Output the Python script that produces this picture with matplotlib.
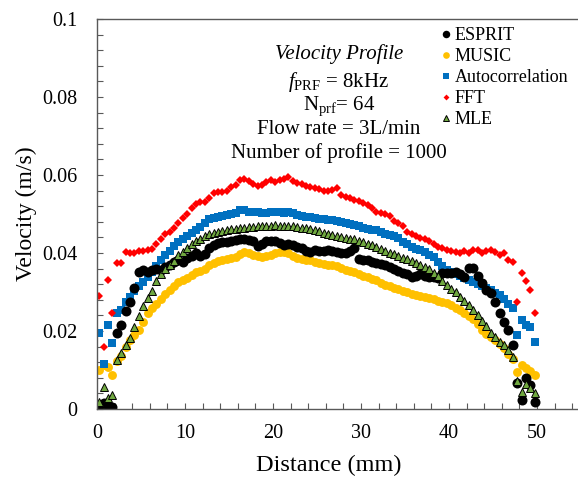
import matplotlib

matplotlib.use("Agg")

import matplotlib.pyplot as plt
from matplotlib.ticker import FuncFormatter, MultipleLocator

plt.rcParams["font.family"] = ["Liberation Serif", "DejaVu Serif"]
plt.rcParams["mathtext.fontset"] = "custom"
plt.rcParams["mathtext.rm"] = "Liberation Serif"
plt.rcParams["mathtext.it"] = "Liberation Serif:italic"

# depth gate positions (mm)
DISTANCE_MM = [
    0.25, 0.75, 1.25, 1.75, 2.25, 2.75, 3.25, 3.75, 4.25, 4.75,
    5.25, 5.75, 6.25, 6.75, 7.25, 7.75, 8.25, 8.75, 9.25, 9.75,
    10.25, 10.75, 11.25, 11.75, 12.25, 12.75, 13.25, 13.75, 14.25, 14.75,
    15.25, 15.75, 16.25, 16.75, 17.25, 17.75, 18.25, 18.75, 19.25, 19.75,
    20.25, 20.75, 21.25, 21.75, 22.25, 22.75, 23.25, 23.75, 24.25, 24.75,
    25.25, 25.75, 26.25, 26.75, 27.25, 27.75, 28.25, 28.75, 29.25, 29.75,
    30.25, 30.75, 31.25, 31.75, 32.25, 32.75, 33.25, 33.75, 34.25, 34.75,
    35.25, 35.75, 36.25, 36.75, 37.25, 37.75, 38.25, 38.75, 39.25, 39.75,
    40.25, 40.75, 41.25, 41.75, 42.25, 42.75, 43.25, 43.75, 44.25, 44.75,
    45.25, 45.75, 46.25, 46.75, 47.25, 47.75, 48.25, 48.75, 49.25, 49.75,
]

ESPRIT = [
    0.0008, 0.0015, 0.0008, 0.0004, 0.0195, 0.0215, 0.0252, 0.0275, 0.0310, 0.0352,
    0.0356, 0.0352, 0.0356, 0.0360, 0.0356, 0.0364, 0.0370, 0.0376, 0.0382, 0.0376,
    0.0386, 0.0392, 0.0400, 0.0392, 0.0398, 0.0414, 0.0420, 0.0425, 0.0429, 0.0428,
    0.0430, 0.0433, 0.0435, 0.0436, 0.0433, 0.0430, 0.0418, 0.0424, 0.0430, 0.0432,
    0.0430, 0.0425, 0.0420, 0.0422, 0.0420, 0.0415, 0.0412, 0.0406, 0.0403, 0.0408,
    0.0406, 0.0404, 0.0408, 0.0404, 0.0402, 0.0400, 0.0399, 0.0405, 0.0412, 0.0385,
    0.0382, 0.0381, 0.0377, 0.0374, 0.0372, 0.0368, 0.0364, 0.0358, 0.0354, 0.0350,
    0.0346, 0.0338, 0.0342, 0.0347, 0.0340, 0.0339, 0.0338, 0.0336, 0.0348, 0.0348,
    0.0350, 0.0352, 0.0345, 0.0338, 0.0361, 0.0362, 0.0341, 0.0322, 0.0305, 0.0298,
    0.0275, 0.0247, 0.0222, 0.0203, 0.0164, 0.0066, 0.0023, 0.0079, 0.0062, 0.0019,
]

MUSIC = [
    0.0100, 0.0112, 0.0108, 0.0087, 0.0124, 0.0136, 0.0160, 0.0178, 0.0190, 0.0203,
    0.0222, 0.0245, 0.0259, 0.0270, 0.0282, 0.0294, 0.0305, 0.0315, 0.0325, 0.0332,
    0.0336, 0.0343, 0.0351, 0.0355, 0.0360, 0.0368, 0.0374, 0.0379, 0.0382, 0.0384,
    0.0386, 0.0391, 0.0397, 0.0403, 0.0399, 0.0395, 0.0392, 0.0390, 0.0392, 0.0395,
    0.0399, 0.0403, 0.0402, 0.0400, 0.0393, 0.0386, 0.0384, 0.0382, 0.0381, 0.0378,
    0.0374, 0.0371, 0.0369, 0.0369, 0.0367, 0.0361, 0.0356, 0.0354, 0.0352, 0.0347,
    0.0342, 0.0338, 0.0334, 0.0330, 0.0324, 0.0318, 0.0315, 0.0311, 0.0307, 0.0303,
    0.0300, 0.0296, 0.0292, 0.0290, 0.0288, 0.0285, 0.0281, 0.0278, 0.0275, 0.0272,
    0.0267, 0.0260, 0.0253, 0.0246, 0.0239, 0.0230, 0.0217, 0.0202, 0.0193, 0.0185,
    0.0176, 0.0166, 0.0156, 0.0142, 0.0128, 0.0096, 0.0113, 0.0105, 0.0097, 0.0087,
]

AUTOCORR = [
    0.0196, 0.0115, 0.0215, 0.0168, 0.0245, 0.0254, 0.0275, 0.0288, 0.0303, 0.0315,
    0.0325, 0.0338, 0.0352, 0.0366, 0.0382, 0.0396, 0.0406, 0.0417, 0.0429, 0.0437,
    0.0444, 0.0452, 0.0460, 0.0467, 0.0476, 0.0488, 0.0491, 0.0493, 0.0496, 0.0498,
    0.0500, 0.0503, 0.0510, 0.0509, 0.0506, 0.0505, 0.0504, 0.0503, 0.0502, 0.0505,
    0.0506, 0.0504, 0.0503, 0.0506, 0.0502, 0.0498, 0.0495, 0.0493, 0.0492, 0.0491,
    0.0488, 0.0486, 0.0485, 0.0484, 0.0483, 0.0479, 0.0476, 0.0474, 0.0472, 0.0468,
    0.0465, 0.0462, 0.0460, 0.0458, 0.0454, 0.0450, 0.0446, 0.0443, 0.0438, 0.0429,
    0.0422, 0.0416, 0.0411, 0.0407, 0.0403, 0.0396, 0.0389, 0.0378, 0.0366, 0.0357,
    0.0352, 0.0347, 0.0341, 0.0336, 0.0331, 0.0325, 0.0320, 0.0316, 0.0310, 0.0305,
    0.0298, 0.0292, 0.0283, 0.0270, 0.0258, 0.0190, 0.0228, 0.0215, 0.0211, 0.0173,
]

FFT = [
    0.0290, 0.0160, 0.0330, 0.0247, 0.0375, 0.0375, 0.0403, 0.0400, 0.0400, 0.0405,
    0.0406, 0.0408, 0.0410, 0.0423, 0.0435, 0.0448, 0.0455, 0.0463, 0.0476, 0.0489,
    0.0500, 0.0515, 0.0525, 0.0530, 0.0532, 0.0540, 0.0555, 0.0557, 0.0557, 0.0560,
    0.0568, 0.0575, 0.0587, 0.0591, 0.0585, 0.0577, 0.0572, 0.0575, 0.0581, 0.0587,
    0.0583, 0.0587, 0.0590, 0.0595, 0.0585, 0.0579, 0.0578, 0.0573, 0.0570, 0.0566,
    0.0563, 0.0558, 0.0560, 0.0562, 0.0566, 0.0550, 0.0543, 0.0540, 0.0537, 0.0533,
    0.0527, 0.0524, 0.0515, 0.0505, 0.0502, 0.0499, 0.0494, 0.0482, 0.0478, 0.0470,
    0.0453, 0.0448, 0.0444, 0.0439, 0.0436, 0.0431, 0.0422, 0.0416, 0.0414, 0.0408,
    0.0404, 0.0402, 0.0401, 0.0406, 0.0400, 0.0408, 0.0408, 0.0400, 0.0404, 0.0408,
    0.0402, 0.0395, 0.0400, 0.0383, 0.0378, 0.0275, 0.0350, 0.0328, 0.0305, 0.0245,
]

MLE = [
    0.0019, 0.0057, 0.0027, 0.0036, 0.0126, 0.0143, 0.0163, 0.0182, 0.0210, 0.0238,
    0.0265, 0.0285, 0.0303, 0.0327, 0.0346, 0.0358, 0.0368, 0.0379, 0.0395, 0.0402,
    0.0413, 0.0422, 0.0430, 0.0437, 0.0444, 0.0449, 0.0452, 0.0454, 0.0457, 0.0459,
    0.0461, 0.0462, 0.0464, 0.0465, 0.0466, 0.0467, 0.0468, 0.0469, 0.0470, 0.0470,
    0.0471, 0.0470, 0.0470, 0.0469, 0.0468, 0.0466, 0.0465, 0.0463, 0.0461, 0.0459,
    0.0456, 0.0452, 0.0449, 0.0446, 0.0444, 0.0442, 0.0439, 0.0437, 0.0435, 0.0432,
    0.0428, 0.0424, 0.0420, 0.0416, 0.0411, 0.0406, 0.0401, 0.0397, 0.0392, 0.0388,
    0.0384, 0.0380, 0.0375, 0.0370, 0.0365, 0.0358, 0.0350, 0.0341, 0.0329, 0.0317,
    0.0307, 0.0299, 0.0288, 0.0277, 0.0266, 0.0255, 0.0240, 0.0225, 0.0212, 0.0196,
    0.0184, 0.0173, 0.0163, 0.0152, 0.0134, 0.0072, 0.0044, 0.0064, 0.0055, 0.0040,
]

W, H = 578, 483
fig = plt.figure(figsize=(W / 100, H / 100), dpi=100)
ax = fig.add_axes([97 / W, 1 - 409 / H, (581 - 97) / W, (409 - 19) / H])

h_music, = ax.plot(DISTANCE_MM, MUSIC, "o", color="#FFC000", ms=6.4, mew=0, label="MUSIC")
h_auto, = ax.plot(DISTANCE_MM, AUTOCORR, "s", color="#0070C0", ms=5.8, mew=0, label="Autocorrelation")
h_fft, = ax.plot(DISTANCE_MM, FFT, "D", color="#FF0000", ms=4.0, mew=0, label="FFT")
h_esprit, = ax.plot(DISTANCE_MM, ESPRIT, "o", color="black", ms=7.2, mew=0, label="ESPRIT")
h_mle, = ax.plot(DISTANCE_MM, MLE, "^", color="#70A840", mec="black", ms=6.3, mew=0.7, label="MLE")

ax.set_xlim(0, 55)
ax.set_ylim(0, 0.1)
ax.xaxis.set_major_locator(MultipleLocator(10))
ax.xaxis.set_minor_locator(MultipleLocator(2))
ax.yaxis.set_major_locator(MultipleLocator(0.02))
ax.yaxis.set_minor_locator(MultipleLocator(0.004))
ax.yaxis.set_major_formatter(FuncFormatter(lambda v, p: "%g" % round(v, 3)))

for s in ax.spines.values():
    s.set_color("#595959")
    s.set_linewidth(1.0)
ax.tick_params(which="both", direction="in", length=4, width=0.8, color="#595959",
               top=False, right=False)
ax.tick_params(axis="x", labelsize=14.5, pad=11)
ax.tick_params(axis="y", labelsize=14.5, pad=14)

ax.set_xlabel("Distance (mm)", fontsize=17.5)
ax.set_ylabel("Velocity (m/s)", fontsize=17)
ax.xaxis.set_label_coords(0.479, -0.118)
ax.yaxis.set_label_coords(-0.124, 0.5)

# annotation block, positioned by baseline
cx = 339 / W
fig.text(cx, 1 - 59 / H, "Velocity Profile", fontsize=15, style="italic", ha="center", va="baseline")
fig.text(cx, 1 - 87 / H, r"$f_{\mathrm{PRF}}$ = 8kHz", fontsize=15, ha="center", va="baseline")
fig.text(cx, 1 - 110 / H, r"N$_{\mathrm{prf}}$= 64", fontsize=15, ha="center", va="baseline")
fig.text(cx, 1 - 134 / H, "Flow rate = 3L/min", fontsize=15, ha="center", va="baseline")
fig.text(cx, 1 - 158 / H, "Number of profile = 1000", fontsize=15, ha="center", va="baseline")

ax.legend([h_esprit, h_music, h_auto, h_fft, h_mle],
          ["ESPRIT", "MUSIC", "Autocorrelation", "FFT", "MLE"],
          loc="upper left", bbox_to_anchor=(441 / W, 1 - 27 / H),
          bbox_transform=fig.transFigure, frameon=False, fontsize=13,
          handlelength=0.6, handletextpad=0.15, labelspacing=0.22,
          borderpad=0, borderaxespad=0, markerscale=0.75)

fig.savefig("out.png", dpi=100)
